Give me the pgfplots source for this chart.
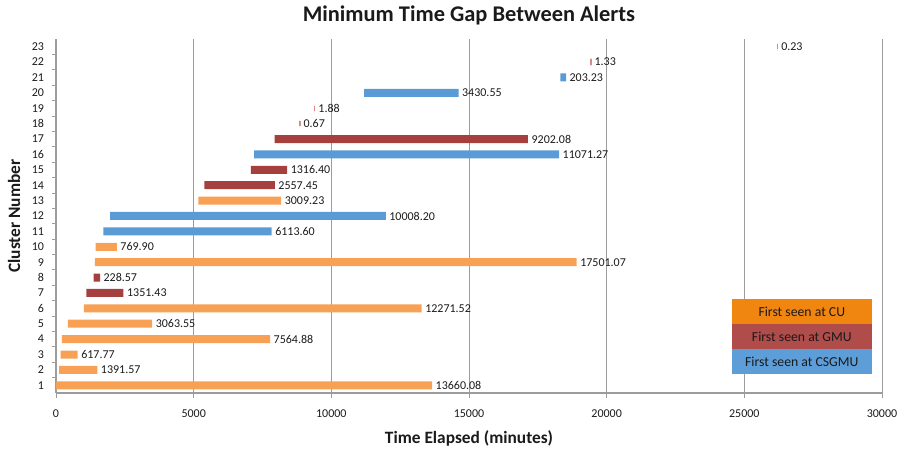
\documentclass[border=0pt]{standalone}
\usepackage{pgfplots}
\pgfplotsset{compat=1.18}
\usepackage{pgfplotstable}
\usepackage{fontspec}
\setmainfont{Carlito}

\definecolor{cuBar}{HTML}{F8A155}
\definecolor{gmuBar}{HTML}{A5403E}
\definecolor{csBar}{HTML}{5A9BD5}
\definecolor{tinyBar}{HTML}{D88A88}
\definecolor{legCU}{HTML}{F0850F}
\definecolor{legGMU}{HTML}{B04C4A}
\definecolor{legCS}{HTML}{5D9ED9}
\definecolor{gridc}{HTML}{9C9C9C}
\definecolor{txt}{HTML}{1A1A1A}

% cluster, start of the gap, length split by where the cluster was first seen
\pgfplotstableread{
cluster start cu gmu cs len
1 0 13660.08 0 0 13660.08
2 110 1391.57 0 0 1391.57
3 170 617.77 0 0 617.77
4 210 7564.88 0 0 7564.88
5 430 3063.55 0 0 3063.55
6 1010 12271.52 0 0 12271.52
7 1100 0 1351.43 0 1351.43
8 1370 0 228.57 0 228.57
9 1410 17501.07 0 0 17501.07
10 1440 769.90 0 0 769.90
11 1720 0 0 6113.60 6113.60
12 1970 0 0 10008.20 10008.20
13 5170 3009.23 0 0 3009.23
14 5390 0 2557.45 0 2557.45
15 7080 0 1316.40 0 1316.40
16 7200 0 0 11071.27 11071.27
17 7940 0 9202.08 0 9202.08
18 8860 0 0.67 0 0.67
19 9400 0 1.88 0 1.88
20 11190 0 0 3430.55 3430.55
21 18320 0 0 203.23 203.23
22 19430 0 1.33 0 1.33
23 26210 0 0.23 0 0.23
}\bars

\pgfplotstableread{
cluster start
18 8860
19 9400
22 19430
23 26210
}\tinygaps

\pgfplotsset{
  commonaxis/.style={
    scale only axis,
    width=619.5pt, height=265.5pt,
    xmin=0, xmax=30000, ymin=0.5, ymax=23.5,
  }
}

\begin{document}
\begin{tikzpicture}
\begin{axis}[
  commonaxis,
  name=ax,
  xbar stacked,
  bar width=0.52,
  axis x line=bottom,
  axis y line=left,
  axis line style={gridc, line width=0.8pt, -},
  xtick={0,5000,...,30000},
  ytick={1,...,23},
  minor y tick num=1,
  tick align=outside,
  major tick length=4pt,
  minor tick length=3pt,
  major y tick style={draw=none},
  minor y tick style={draw=gridc, line width=0.6pt},
  x tick style={draw=gridc, line width=0.6pt},
  xmajorgrids,
  major grid style={gridc, line width=0.7pt},
  scaled x ticks=false,
  /pgf/number format/assume math mode=true,
  xticklabel={\pgfmathprintnumber[fixed,1000 sep={}]{\tick}},
  ticklabel style={font=\fontsize{9}{10}\selectfont, text=txt},
  xticklabel style={yshift=-5pt},
  yticklabel style={xshift=-1.5pt},
  title={Minimum Time Gap Between Alerts},
  title style={at={(axis description cs:0.5,1.045)}, anchor=center,
    font=\bfseries\fontsize{16.8}{19}\selectfont, text=txt},
  xlabel={Time Elapsed (minutes)},
  xlabel style={at={(axis description cs:0.5,-0.127)}, anchor=center,
    font=\bfseries\fontsize{13}{15}\selectfont, text=txt},
  ylabel={Cluster Number},
  ylabel style={at={(axis description cs:-0.0508,0.5)}, anchor=center,
    font=\bfseries\fontsize{13}{15}\selectfont, text=txt},
]
\addplot[fill=none, draw=none] table[x=start, y=cluster] {\bars};
\addplot[fill=cuBar, draw=none] table[x=cu, y=cluster] {\bars};
\addplot[fill=gmuBar, draw=none] table[x=gmu, y=cluster] {\bars};
\addplot[fill=csBar, draw=none] table[x=cs, y=cluster] {\bars};
\end{axis}

\begin{axis}[
  commonaxis,
  hide axis,
  clip=false,
]
\addplot[only marks, mark=|, mark size=2pt, mark options={tinyBar, line width=0.9pt}]
  table[x=start, y=cluster] {\tinygaps};
\addplot[only marks, mark=none, nodes near coords, point meta=explicit symbolic,
  nodes near coords style={anchor=west, inner sep=1.5pt, xshift=1pt,
    font=\fontsize{9}{10}\selectfont, text=txt}]
  table[x expr=\thisrow{start}+\thisrow{len}, y=cluster, meta=len] {\bars};
\fill[legCU] (axis cs:24544,6.584) rectangle (axis cs:29630,4.961);
\fill[legGMU] (axis cs:24544,4.961) rectangle (axis cs:29630,3.338);
\fill[legCS] (axis cs:24544,3.338) rectangle (axis cs:29630,1.714);
\node[font=\fontsize{10.3}{12}\selectfont, text=txt] at (axis cs:27087,5.77) {First seen at CU};
\node[font=\fontsize{10.3}{12}\selectfont, text=txt] at (axis cs:27087,4.15) {First seen at GMU};
\node[font=\fontsize{10.3}{12}\selectfont, text=txt] at (axis cs:27087,2.53) {First seen at CSGMU};
\end{axis}

\pgfresetboundingbox
\path ([shift={(-42pt,-46.5pt)}]ax.south west) rectangle ([shift={(16.5pt,29.25pt)}]ax.north east);
\end{tikzpicture}
\end{document}
